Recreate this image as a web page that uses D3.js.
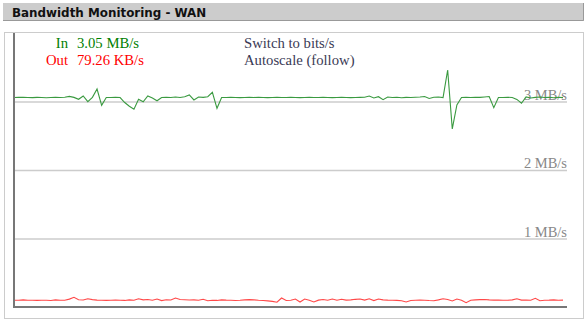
<!DOCTYPE html>
<html>
<head>
<meta charset="utf-8">
<script src="https://cdn.jsdelivr.net/npm/d3@7"></script>
<style>
  body { margin: 0; background: #fff; }
  svg { display: block; }
</style>
</head>
<body>
<div id="chart"></div>
<script>
// values in MB/s, one sample per step, oldest first
const inValues = [
  3.058, 3.060, 3.062, 3.058, 3.056, 3.060, 3.058, 3.055, 3.058, 3.060,
  3.058, 3.062, 3.075, 3.060, 3.032, 3.080, 2.997, 3.060, 3.182, 2.944,
  3.058, 3.058, 3.060, 3.058, 2.985, 2.930, 2.886, 3.032, 2.995, 3.080,
  3.050, 3.010, 3.058, 3.062, 3.058, 3.066, 3.058, 3.070, 3.095, 3.022,
  3.066, 3.060, 3.070, 3.134, 2.901, 3.058, 3.058, 3.060, 3.058, 3.056,
  3.058, 3.060, 3.058, 3.062, 3.058, 3.056, 3.058, 3.060, 3.058, 3.058,
  3.062, 3.058, 3.056, 3.058, 3.060, 3.058, 3.058, 3.062, 3.058, 3.056,
  3.058, 3.060, 3.058, 3.056, 3.058, 3.060, 3.062, 3.080, 3.052, 3.070,
  3.026, 3.066, 3.058, 3.062, 3.055, 3.060, 3.058, 3.062, 3.066, 3.073,
  3.045, 3.062, 3.066, 3.058, 3.460, 2.599, 2.949, 3.058, 3.060, 3.058,
  3.062, 3.060, 3.066, 3.073, 2.909, 3.058, 3.058, 3.062, 3.058, 3.030,
  2.974, 3.066, 3.051, 3.060, 3.066, 3.058, 3.062, 3.055, 3.060, 3.058
];
const outValues = [
  0.098, 0.098, 0.104, 0.098, 0.098, 0.096, 0.098, 0.098, 0.094, 0.104,
  0.098, 0.098, 0.115, 0.142, 0.105, 0.102, 0.121, 0.108, 0.100, 0.098,
  0.096, 0.098, 0.100, 0.098, 0.096, 0.104, 0.098, 0.121, 0.104, 0.110,
  0.098, 0.117, 0.094, 0.106, 0.102, 0.131, 0.110, 0.106, 0.102, 0.104,
  0.098, 0.112, 0.092, 0.098, 0.096, 0.104, 0.100, 0.098, 0.094, 0.098,
  0.104, 0.108, 0.104, 0.098, 0.094, 0.090, 0.082, 0.069, 0.131, 0.094,
  0.098, 0.117, 0.073, 0.117, 0.098, 0.073, 0.100, 0.110, 0.098, 0.117,
  0.098, 0.112, 0.100, 0.104, 0.112, 0.117, 0.100, 0.121, 0.094, 0.117,
  0.104, 0.100, 0.098, 0.096, 0.092, 0.073, 0.096, 0.098, 0.100, 0.098,
  0.094, 0.092, 0.104, 0.121, 0.110, 0.088, 0.117, 0.100, 0.063, 0.098,
  0.104, 0.108, 0.110, 0.104, 0.100, 0.102, 0.098, 0.098, 0.104, 0.121,
  0.100, 0.102, 0.098, 0.127, 0.092, 0.098, 0.100, 0.104, 0.098, 0.100
];
const gridTicks = [1, 2, 3];
const title = "Bandwidth Monitoring - WAN";
const inLabel = "3.05 MB/s";
const outLabel = "79.26 KB/s";

const W = 587, H = 321;
const svg = d3.select("#chart").append("svg")
  .attr("width", W).attr("height", H);

// header bar
svg.append("rect")
  .attr("x", 3).attr("y", 3).attr("width", 581).attr("height", 18)
  .attr("fill", "#cccccc");
svg.append("path")
  .attr("d", "M3,20.5H583.5V3")
  .attr("fill", "none").attr("stroke", "#999").attr("stroke-width", 1);
svg.append("text")
  .attr("x", 12).attr("y", 16.5)
  .style("font-family", "Verdana, 'DejaVu Sans', sans-serif")
  .style("font-weight", "bold").style("font-size", "11.9px")
  .attr("fill", "#111")
  .text(title);

// outer box
svg.append("rect")
  .attr("x", 4.5).attr("y", 32.5).attr("width", 579).attr("height", 286)
  .attr("fill", "none").attr("stroke", "#cccccc");

const x = d3.scaleLinear().domain([0, inValues.length - 1]).range([14, 563]);
const y = d3.scaleLinear().domain([0, 4]).range([307, 33]);

// gridlines with labels
const grid = svg.append("g")
  .attr("transform", "translate(567,0)")
  .call(d3.axisLeft(y).tickValues(gridTicks).tickSize(553).tickFormat(d => d + " MB/s"));
grid.select(".domain").remove();
grid.selectAll("line").attr("stroke", "#cccccc").attr("stroke-width", 1.5);
grid.selectAll("text")
  .attr("x", 0).attr("dy", "-0.15em")
  .attr("text-anchor", "end")
  .attr("fill", "#888")
  .style("font-family", "'Liberation Serif', 'Times New Roman', serif")
  .style("font-size", "14.5px");

// series lines
const line = d3.line().x((d, i) => x(i)).y(d => y(d));
svg.append("path").datum(outValues)
  .attr("d", line).attr("fill", "none")
  .attr("stroke", "#ff4848").attr("stroke-width", 1.1);
svg.append("path").datum(inValues)
  .attr("d", line).attr("fill", "none")
  .attr("stroke", "#3a9a40").attr("stroke-width", 1.1);

// axes
svg.append("line").attr("x1", 14).attr("x2", 14).attr("y1", 33).attr("y2", 308)
  .attr("stroke", "#777").attr("stroke-width", 2);
svg.append("line").attr("x1", 13).attr("x2", 567).attr("y1", 307).attr("y2", 307)
  .attr("stroke", "#777").attr("stroke-width", 2);

// legend text
const serif = "'Liberation Serif', 'Times New Roman', serif";
function label(tx, ty, str, color, anchor) {
  svg.append("text").attr("x", tx).attr("y", ty)
    .attr("text-anchor", anchor || "start")
    .attr("fill", color)
    .style("font-family", serif).style("font-size", "14.7px")
    .text(str);
}
label(68, 48, "In", "#008000", "end");
label(77, 48, inLabel, "#008000");
label(68, 65, "Out", "#ff0000", "end");
label(77, 65, outLabel, "#ff0000");
label(244, 48, "Switch to bits/s", "#3a3a55");
label(244, 65, "Autoscale (follow)", "#3a3a55");
</script>
</body>
</html>
